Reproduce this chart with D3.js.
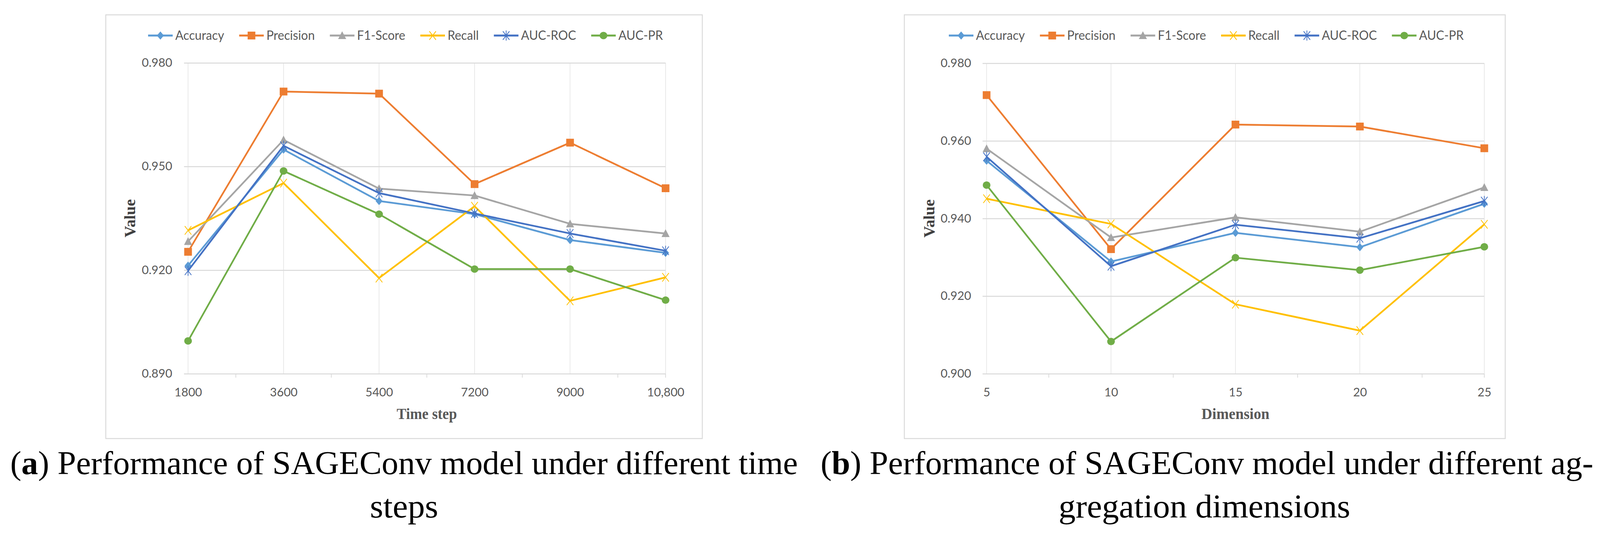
<!DOCTYPE html>
<html><head><meta charset="utf-8">
<script src="https://cdn.jsdelivr.net/npm/d3@7"></script>
<style>html,body{margin:0;padding:0;background:#fff;overflow:hidden} svg{display:block}</style>
</head><body>
<svg id="chart"></svg>
<script>
// ---------------- DATA ----------------
const seriesNames = ["Accuracy","Precision","F1-Score","Recall","AUC-ROC","AUC-PR"];
const seriesColors = ["#5B9BD5","#ED7D31","#A5A5A5","#FFC000","#4472C4","#70AD47"];
const seriesMarkers = ["diamond","square","triangle","x","asterisk","circle"];

// Panel (a): time steps
const timeSteps = ["1800","3600","5400","7200","9000","10,800"];
const accuracyA  = [0.9213,0.9549,0.9400,0.9362,0.9287,0.9250];
const precisionA = [0.9253,0.9717,0.9711,0.9449,0.9569,0.9437];
const f1A        = [0.9283,0.9577,0.9436,0.9416,0.9334,0.9306];
const recallA    = [0.9315,0.9452,0.9177,0.9385,0.9111,0.9179];
const aucRocA    = [0.9198,0.9560,0.9423,0.9364,0.9306,0.9256];
const aucPrA     = [0.8995,0.9487,0.9362,0.9203,0.9203,0.9113];
const yTicksA    = [0.890,0.920,0.950,0.980];

// Panel (b): aggregation dimensions
const dimensions = ["5","10","15","20","25"];
const accuracyB  = [0.9549,0.9289,0.9363,0.9326,0.9438];
const precisionB = [0.9718,0.9321,0.9642,0.9637,0.9581];
const f1B        = [0.9580,0.9351,0.9403,0.9366,0.9480];
const recallB    = [0.9451,0.9386,0.9179,0.9111,0.9385];
const aucRocB    = [0.9559,0.9277,0.9384,0.9349,0.9445];
const aucPrB     = [0.9486,0.9083,0.9299,0.9267,0.9327];
const yTicksB    = [0.900,0.920,0.940,0.960,0.980];

const xTitles = ["Time step","Dimension"];
const yTitle = "Value";
const captionA = [["(", "a", ") Performance of SAGEConv model under different time"], ["steps"]];
const captionB = [["(", "b", ") Performance of SAGEConv model under different ag-"], ["gregation dimensions"]];

// ---------------- RENDER ----------------
const VW = 4356, VH = 1370;
const svg = d3.select("#chart")
  .attr("width", window.innerWidth || VW).attr("height", window.innerHeight || VH)
  .attr("viewBox", `0 0 ${VW} ${VH}`).attr("preserveAspectRatio", "none");
const FONT_SANS = "Lato, 'Open Sans', 'Noto Sans', sans-serif";
const FONT_SERIF = "'Liberation Serif', 'DejaVu Serif', serif";
const GRID = "#d9d9d9";
const TXT = "#595959";

function measure(str, font, size, weight) {
  const t = svg.append("text").attr("font-family", font).attr("font-size", size)
    .attr("font-weight", weight || "normal").text(str);
  const w = t.node().getComputedTextLength(); t.remove(); return w;
}
const TICK_FS = 30, LEG_FS = 32;
const tickFx = 83 / measure("0.980", FONT_SANS, TICK_FS);
const legFx = 133 / measure("Accuracy", FONT_SANS, LEG_FS);

function marker(g, type, color, cx, cy) {
  const m = g.append("g").attr("transform", `translate(${cx},${cy})`);
  if (type === "diamond") m.append("path").attr("d", "M0,-10.5L9.5,0L0,10.5L-9.5,0Z").attr("fill", color);
  else if (type === "square") m.append("rect").attr("x", -10.5).attr("y", -10).attr("width", 21).attr("height", 20).attr("fill", color);
  else if (type === "triangle") m.append("path").attr("d", "M0,-11L11,9L-11,9Z").attr("fill", color);
  else if (type === "circle") m.append("ellipse").attr("rx", 10.5).attr("ry", 9.5).attr("fill", color);
  else if (type === "x" || type === "asterisk") {
    const p = type === "x" ? "M-9,-11L9,11M9,-11L-9,11" : "M-9,-11L9,11M9,-11L-9,11M0,-13L0,13";
    m.append("path").attr("d", p).attr("stroke", color).attr("stroke-width", 2).attr("fill", "none");
  }
}

function drawPanel(cfg) {
  const g = svg.append("g");
  const [fx0, fy0, fx1, fy1] = cfg.frame;
  g.append("rect").attr("x", fx0).attr("y", fy0).attr("width", fx1 - fx0).attr("height", fy1 - fy0)
    .attr("fill", "#fff").attr("stroke", GRID).attr("stroke-width", 2.5);

  const P = cfg.plot, W = P.right - P.left;
  const x = d3.scalePoint().domain(cfg.categories).range([P.left, P.right]).padding(0);
  const y = d3.scaleLinear().domain(cfg.yDomain).range([P.bottom, P.top]);

  // vertical gridlines at categories
  g.append("g").selectAll("line").data(cfg.categories).join("line")
    .attr("x1", d => x(d)).attr("x2", d => x(d)).attr("y1", P.top).attr("y2", P.bottom)
    .attr("stroke", "#e3e3e3").attr("stroke-width", 1.6);

  // y axis (gridlines + labels)
  const ya = g.append("g").attr("transform", `translate(${P.right},0)`)
    .call(d3.axisLeft(y).tickValues(cfg.yTicks).tickFormat(d3.format(".3f")).tickSize(W + 11).tickPadding(0));
  ya.select(".domain").remove();
  ya.selectAll(".tick line").attr("stroke", GRID).attr("stroke-width", 2.5);
  ya.selectAll(".tick text").attr("x", 0)
    .attr("transform", `translate(${-(W + cfg.yLabelGap)},0) scale(${tickFx},1)`)
    .attr("font-family", FONT_SANS).attr("font-size", TICK_FS).attr("fill", TXT);

  // x axis labels
  const xa = g.append("g").attr("transform", `translate(0,${P.bottom})`)
    .call(d3.axisBottom(x).tickSize(0).tickPadding(0));
  xa.select(".domain").remove();
  xa.selectAll(".tick text").attr("y", 0).attr("dy", 0)
    .attr("transform", `translate(0,58) scale(${tickFx},1)`)
    .attr("font-family", FONT_SANS).attr("font-size", TICK_FS).attr("fill", TXT);

  // bottom small tick marks (between categories and at right end)
  const cats = cfg.categories;
  const tpos = d3.range(cats.length - 1).map(i => (x(cats[i]) + x(cats[i + 1])) / 2).concat([x(cats[cats.length - 1])]);
  g.append("g").selectAll("line").data(tpos).join("line")
    .attr("x1", d => d).attr("x2", d => d).attr("y1", P.bottom).attr("y2", P.bottom + 10)
    .attr("stroke", GRID).attr("stroke-width", 2);

  // series
  const line = d3.line().x((d, i) => x(cats[i])).y(d => y(d));
  cfg.values.forEach((vals, si) => {
    const sg = g.append("g");
    sg.append("path").datum(vals).attr("d", line).attr("fill", "none")
      .attr("stroke", seriesColors[si]).attr("stroke-width", 4.5).attr("stroke-linejoin", "round");
    vals.forEach((v, i) => marker(sg, seriesMarkers[si], seriesColors[si], x(cats[i]), y(v)));
  });

  // legend
  const lg = g.append("g");
  const widths = seriesNames.map(n => measure(n, FONT_SANS, LEG_FS) * legFx);
  const LINE = 67, GAP1 = 7, GAP2 = 41;
  const total = d3.sum(widths) + seriesNames.length * (LINE + GAP1) + (seriesNames.length - 1) * GAP2;
  let lx = (fx0 + fx1) / 2 - total / 2 + 4;
  seriesNames.forEach((n, i) => {
    lg.append("line").attr("x1", lx).attr("x2", lx + LINE).attr("y1", 91).attr("y2", 91)
      .attr("stroke", seriesColors[i]).attr("stroke-width", 5);
    marker(lg, seriesMarkers[i], seriesColors[i], lx + LINE / 2, 91);
    lg.append("text").attr("transform", `translate(${lx + LINE + GAP1},101.5) scale(${legFx},1)`)
      .attr("font-family", FONT_SANS).attr("font-size", LEG_FS).attr("fill", TXT).text(n);
    lx += LINE + GAP1 + widths[i] + GAP2;
  });

  // axis titles
  g.append("text").attr("x", (P.left + P.right) / 2).attr("y", cfg.xTitleY).attr("text-anchor", "middle")
    .attr("font-family", FONT_SERIF).attr("font-weight", "bold").attr("font-size", 39).attr("fill", TXT)
    .attr("textLength", cfg.xTitleW).attr("lengthAdjust", "spacingAndGlyphs").text(cfg.xTitle);
  g.append("text").attr("transform", `translate(${cfg.yTitleX},${(P.top + P.bottom) / 2}) rotate(-90)`)
    .attr("text-anchor", "middle").attr("font-family", FONT_SERIF).attr("font-weight", "bold")
    .attr("font-size", 42).attr("fill", "#404040")
    .attr("textLength", 98).attr("lengthAdjust", "spacingAndGlyphs").text(yTitle);

  // caption (scaled horizontally to the measured width of each line)
  cfg.caption.forEach((parts, li) => {
    const t = svg.append("text")
      .attr("font-family", FONT_SERIF).attr("font-size", 84).attr("fill", "#000");
    parts.forEach((p, pi) => {
      t.append("tspan").attr("font-weight", (parts.length === 3 && pi === 1) ? "bold" : "normal").text(p);
    });
    const w = t.node().getComputedTextLength();
    t.attr("transform", `translate(${cfg.capX[li]},${cfg.capY[li]}) scale(${cfg.capW[li] / w},1)`);
  });
}

drawPanel({
  frame: [288, 38, 1912, 1123],
  plot: {left: 512, right: 1812, top: 161, bottom: 957},
  categories: timeSteps, yDomain: [0.890, 0.980], yTicks: yTicksA, yLabelGap: 43,
  values: [accuracyA, precisionA, f1A, recallA, aucRocA, aucPrA],
  xTitle: xTitles[0], xTitleY: 1073, xTitleW: 164, yTitleX: 368,
  caption: captionA, capX: [28, 1007], capY: [1214, 1325], capW: [2144, 186]
});
drawPanel({
  frame: [2462, 38, 4098, 1123],
  plot: {left: 2686, right: 4041, top: 162, bottom: 957},
  categories: dimensions, yDomain: [0.900, 0.980], yTicks: yTicksB, yLabelGap: 42,
  values: [accuracyB, precisionB, f1B, recallB, aucRocB, aucPrB],
  xTitle: xTitles[1], xTitleY: 1073, xTitleW: 185, yTitleX: 2544,
  caption: captionB, capX: [2234, 2882], capY: [1214, 1325], capW: [2104, 794]
});
</script>
</body></html>
